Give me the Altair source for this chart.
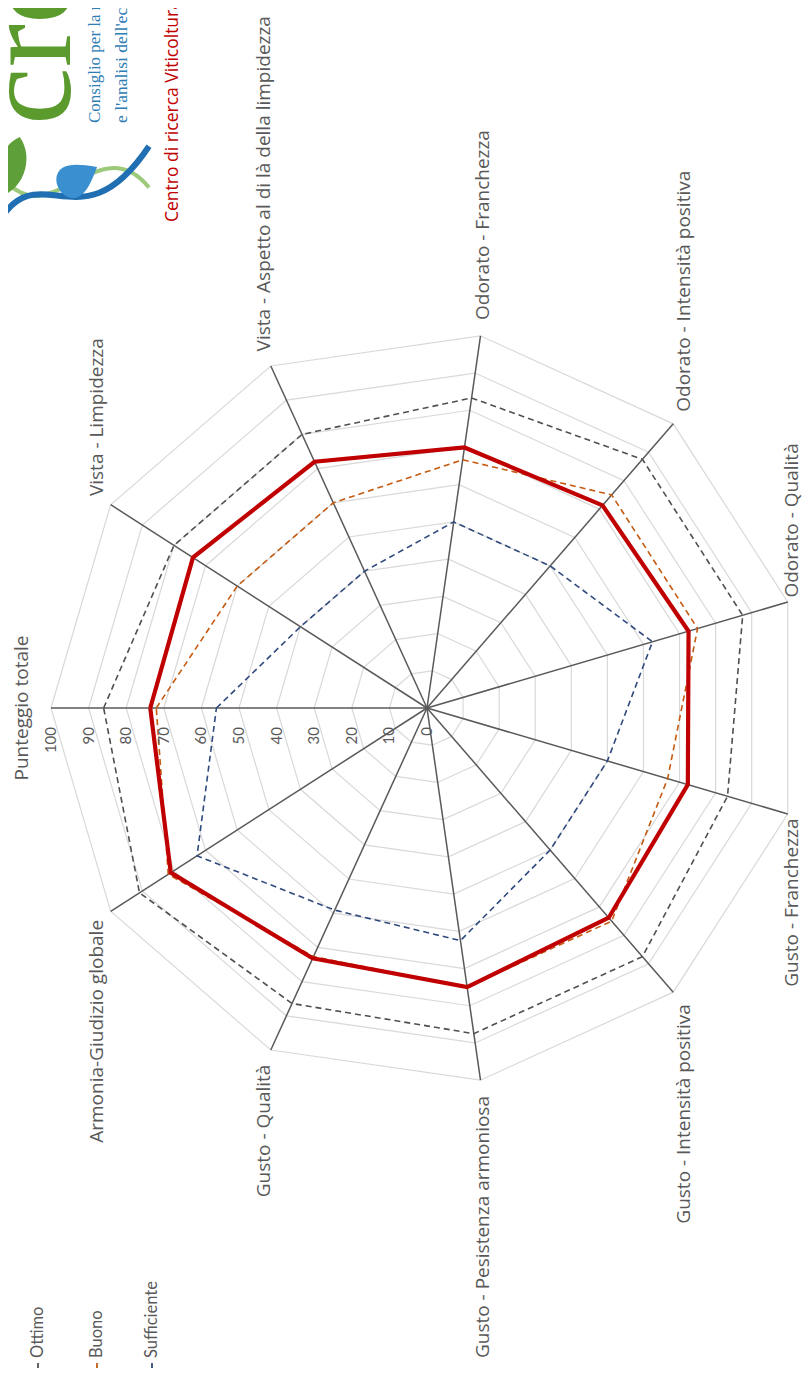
import altair as alt
import pandas as pd

# ---------------- data ----------------
categories = [
    "Punteggio totale",
    "Vista - Limpidezza",
    "Vista - Aspetto al di là della limpidezza",
    "Odorato - Franchezza",
    "Odorato - Intensità positiva",
    "Odorato - Qualità",
    "Gusto - Franchezza",
    "Gusto - Intensità positiva",
    "Gusto - Pesistenza armoniosa",
    "Gusto - Qualità",
    "Armonia-Giudizio globale",
]
campione = [73.6, 74.0, 72.0, 70.0, 71.3, 72.5, 72.3, 73.8, 75.0, 73.2, 81.0]
ottimo = [86.0, 80.0, 80.0, 83.3, 87.5, 87.5, 83.3, 87.5, 87.5, 86.4, 90.9]
buono = [72.0, 60.0, 60.0, 66.7, 75.0, 75.0, 66.7, 75.0, 75.0, 72.7, 81.8]
sufficiente = [56.0, 40.0, 40.0, 50.0, 50.0, 62.5, 50.0, 50.0, 62.5, 59.1, 72.7]
grid_levels = [10, 20, 30, 40, 50, 60, 70, 80, 90, 100]
tick_labels = [0, 10, 20, 30, 40, 50, 60, 70, 80, 90, 100]
legend_labels = ["Ottimo", "Buono", "Sufficiente"]

N = len(categories)

# ---------------- layout ----------------
W, H = 795, 1360
CX, CY = 419, 700
PPU = 3.76  # pixels per unit of score
xs = alt.Scale(domain=[-CX / PPU, (W - CX) / PPU], nice=False, zero=False)
ys = alt.Scale(domain=[-(H - CY) / PPU, CY / PPU], nice=False, zero=False)
ANG = f"PI - datum.k * 2 * PI / {N}"

GRID_C = "#D9D9D9"
SPOKE_C = "#595959"
TXT_C = "#595959"
LAB_FONT = "Open Sans"
LAB_SIZE = 19
COL = {"Ottimo": "#505050", "Buono": "#C55A11", "Sufficiente": "#2F4A7E"}


def XY(xf="px", yf="py"):
    return dict(
        x=alt.X(f"{xf}:Q", scale=xs, axis=None),
        y=alt.Y(f"{yf}:Q", scale=ys, axis=None),
    )


# grid polygons
grid_df = pd.DataFrame(
    [{"level": L, "k": k} for L in grid_levels for k in range(N + 1)]
)
grid = (
    alt.Chart(grid_df)
    .transform_calculate(theta=ANG)
    .transform_calculate(px="datum.level*cos(datum.theta)", py="datum.level*sin(datum.theta)")
    .mark_line(color=GRID_C, strokeWidth=1.2)
    .encode(detail="level:N", order="k:Q", **XY())
)

# spokes
spoke_df = pd.DataFrame({"k": list(range(N))})
spokes = (
    alt.Chart(spoke_df)
    .transform_calculate(theta=ANG)
    .transform_calculate(
        ox="0", oy="0", ex="100*cos(datum.theta)", ey="100*sin(datum.theta)"
    )
    .mark_rule(color=SPOKE_C, strokeWidth=1.5)
    .encode(
        x=alt.X("ox:Q", scale=xs, axis=None),
        y=alt.Y("oy:Q", scale=ys, axis=None),
        x2="ex:Q",
        y2="ey:Q",
    )
)


def series_layer(vals, color, width, dash=None):
    df = pd.DataFrame({"k": list(range(N + 1)), "v": [vals[k % N] for k in range(N + 1)]})
    kw = dict(color=color, strokeWidth=width)
    if dash:
        kw["strokeDash"] = dash
    return (
        alt.Chart(df)
        .transform_calculate(theta=ANG)
        .transform_calculate(px="datum.v*cos(datum.theta)", py="datum.v*sin(datum.theta)")
        .mark_line(**kw)
        .encode(order="k:Q", **XY())
    )


l_suff = series_layer(sufficiente, COL["Sufficiente"], 1.6, [6, 4])
l_buono = series_layer(buono, COL["Buono"], 1.6, [6, 4])
l_ottimo = series_layer(ottimo, COL["Ottimo"], 1.6, [6, 4])
l_camp = series_layer(campione, "#C00000", 4.2)

# category labels
LR = 100 + 16 / PPU
lab_df = pd.DataFrame({"k": list(range(N)), "name": categories})


def lab_layer(flt, align, dy=0):
    return (
        alt.Chart(lab_df)
        .transform_filter(flt)
        .transform_calculate(theta=ANG)
        .transform_calculate(px=f"{LR}*cos(datum.theta)", py=f"{LR}*sin(datum.theta)")
        .mark_text(
            angle=270, align=align, baseline="middle", dy=dy,
            font=LAB_FONT, fontSize=LAB_SIZE, color=TXT_C,
        )
        .encode(text="name:N", **XY())
    )


lab_top = lab_layer("datum.k == 0", "center", -13)
lab_up = lab_layer("datum.k >= 1 && datum.k <= 4", "left")
lab_up_edge = lab_layer("datum.k == 5", "left", -11)
lab_low_edge = lab_layer("datum.k == 6", "right", -11)
lab_low = lab_layer("datum.k >= 7", "right")

# tick labels along first axis
tick_df = pd.DataFrame({"v": tick_labels})
ticks = (
    alt.Chart(tick_df)
    .transform_calculate(px="-datum.v", py="0")
    .mark_text(angle=270, align="right", baseline="middle", dx=-19,
               font="Lato", fontSize=15, color=TXT_C)
    .encode(text="v:Q", **XY())
)

# legend (manual, rotated)
legend_layers = []
leg_x = [30, 89, 144]
for name, lx in zip(legend_labels, leg_x):
    legend_layers.append(
        alt.Chart(pd.DataFrame({"t": [name]}))
        .mark_text(angle=270, align="left", baseline="middle",
                   font="Lato", fontSize=16.5, color=TXT_C)
        .encode(text="t:N", x=alt.value(lx), y=alt.value(1350))
    )
    legend_layers.append(
        alt.Chart(pd.DataFrame({"t": [name]}))
        .mark_rule(color=COL[name], strokeWidth=1.8)
        .encode(x=alt.value(lx), y=alt.value(1355), y2=alt.value(1364))
    )

# logo (decoration)
one = pd.DataFrame({"t": ["crea"]})
logo_cr = (
    alt.Chart(one)
    .mark_text(angle=270, align="left", baseline="alphabetic",
               font="Liberation Serif", fontSize=130, color="#5B9B2E")
    .encode(text="t:N", x=alt.value(62), y=alt.value(117))
)
logo_l1 = (
    alt.Chart(pd.DataFrame({"t": ["Consiglio per la ricerca in agricoltura"]}))
    .mark_text(angle=270, align="left", baseline="alphabetic",
               font="Liberation Serif", fontSize=17, color="#2E7DB5")
    .encode(text="t:N", x=alt.value(92), y=alt.value(115))
)
logo_l2 = (
    alt.Chart(pd.DataFrame({"t": ["e  l'analisi  dell'economia agraria"]}))
    .mark_text(angle=270, align="left", baseline="alphabetic",
               font="Liberation Serif", fontSize=17.5, color="#2E7DB5")
    .encode(text="t:N", x=alt.value(119), y=alt.value(115))
)
logo_red = (
    alt.Chart(pd.DataFrame({"t": ["Centro di ricerca Viticoltura ed Enologia"]}))
    .mark_text(angle=270, align="left", baseline="alphabetic",
               font="Open Sans", fontSize=17.5, color="#C00000")
    .encode(text="t:N", x=alt.value(170), y=alt.value(214))
)
DROP = "M 0 -1 C 0.5 -0.4 0.75 0 0.75 0.35 C 0.75 0.75 0.4 1 0 1 C -0.4 1 -0.75 0.75 -0.75 0.35 C -0.75 0 -0.5 -0.4 0 -1 Z"
LEAF = "M 0 -1 C 0.6 -0.5 0.6 0.5 0 1 C -0.6 0.5 -0.6 -0.5 0 -1 Z"
SW1 = "M -1 0.55 C -0.45 -0.35 0.1 0.9 1 -0.45"
SW2 = "M -1 -0.1 C -0.35 0.85 0.3 -0.75 1 0.1"
logo_sw2 = (
    alt.Chart(one).mark_point(shape=SW2, filled=False, stroke="#9CC97A", strokeWidth=4, size=150 ** 2, opacity=1)
    .encode(x=alt.value(66), y=alt.value(172))
)
logo_sw1 = (
    alt.Chart(one).mark_point(shape=SW1, filled=False, stroke="#1F6FB2", strokeWidth=6, size=150 ** 2, opacity=1)
    .encode(x=alt.value(66), y=alt.value(172))
)
logo_drop = (
    alt.Chart(one).mark_point(shape=DROP, filled=True, color="#3A8FD0", size=44 ** 2, angle=60, opacity=1)
    .encode(x=alt.value(70), y=alt.value(170))
)
logo_leaf = (
    alt.Chart(one).mark_point(shape=LEAF, filled=True, color="#5E9F3A", size=60 ** 2, angle=15, opacity=1)
    .encode(x=alt.value(4), y=alt.value(158))
)

chart = (
    alt.layer(
        grid, spokes, l_suff, l_buono, l_ottimo, l_camp,
        ticks, lab_top, lab_up, lab_up_edge, lab_low_edge, lab_low,
        *legend_layers,
        logo_sw2, logo_sw1, logo_drop, logo_leaf,
        logo_cr, logo_l1, logo_l2, logo_red,
    )
    .properties(width=W, height=H, padding=0, autosize=alt.AutoSizeParams(type="none"),
                background="white")
    .configure_view(strokeWidth=0)
)

chart.save("out.html", embed_options={"renderer": "svg", "actions": False})
